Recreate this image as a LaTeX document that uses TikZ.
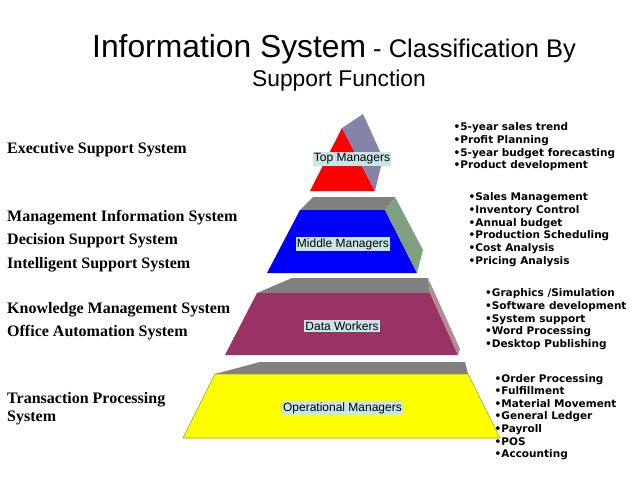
\documentclass[tikz,border=0pt]{standalone}
\usepackage{fontspec}
\setmainfont{Liberation Serif}
\newfontfamily\arialfont{Liberation Sans}
\newfontfamily\verdfont{DejaVu Sans}
\usetikzlibrary{positioning}
\usepackage{xcolor}
\definecolor{lidgrey}{HTML}{808080}
\definecolor{topred}{HTML}{FF0000}
\definecolor{topside}{HTML}{8484A8}
\definecolor{midblue}{HTML}{0000FF}
\definecolor{midside}{HTML}{80A080}
\definecolor{datamaroon}{HTML}{993366}
\definecolor{dataside}{HTML}{B28C92}
\definecolor{opyellow}{HTML}{FFFF00}
\definecolor{opedge}{HTML}{A0A020}
\definecolor{lblcyan}{HTML}{C8E6E8}

\begin{document}
\begin{tikzpicture}[x=1pt,y=-1pt,
  every node/.style={inner sep=0pt},
  sys/.style={font=\bfseries\fontsize{16}{18}\selectfont, anchor=base west},
  bul/.style={font=\verdfont\bfseries\fontsize{10.5}{12}\selectfont, anchor=base west},
  lvl/.style={fill=lblcyan, font=\arialfont\fontsize{12}{14}\selectfont,
              inner xsep=1pt, inner ysep=1.5pt},
  lid/.style={fill=lidgrey}
]
\useasboundingbox (0,0) rectangle (638,479);
\fill[white] (0,0) rectangle (638,479);

%% title
\node[anchor=base west, font=\arialfont] (title) at (92,57)
  {{\fontsize{31.8}{36}\selectfont Information System}{\fontsize{25.5}{28}\selectfont\ - Classification By}};
\node[anchor=base, font=\arialfont\fontsize{22.8}{28}\selectfont] (subtitle) at (339,86) {Support Function};

%% systems (left side)
\node[sys] (ess)  at (7,153) {Executive Support System};
\node[sys] (mis)  at (7,221) {Management Information System};
\node[sys] (dss)  at (7,244) {Decision Support System};
\node[sys] (iss)  at (7,268) {Intelligent Support System};
\node[sys] (kms)  at (7,313) {Knowledge Management System};
\node[sys] (oas)  at (7,336) {Office Automation System};
\node[sys] (tps)  at (7,403) {Transaction Processing};
\node[sys] (tpsb) at (7,421) {System};

%% pyramid: top tier
\fill[topred]  (342,128) -- (375,191) -- (310,191) -- cycle;
\fill[topside] (342,128) -- (363,114) -- (383,158) -- (375,191) -- cycle;

%% middle tier
\fill[lid]     (300,210) -- (313,197) -- (395,197) -- (385,210) -- cycle;
\fill[midblue] (300,210) -- (385,210) -- (417,273) -- (267,273) -- cycle;
\fill[midside] (385,210) -- (395,197) -- (423,250) -- (417,273) -- cycle;

%% data tier
\fill[lid]        (257,293) -- (292,278) -- (428,278) -- (430,293) -- cycle;
\fill[datamaroon] (257,293) -- (430,293) -- (458,355) -- (225,355) -- cycle;
\fill[dataside]   (430,293) -- (428,278) -- (460,349) -- (458,355) -- cycle;

%% operational tier
\fill[lid] (215,374) -- (260,362) -- (465,362) -- (468,374) -- cycle;
\filldraw[fill=opyellow, draw=opedge, line width=0.6pt]
  (215,374) -- (468,374) -- (500,438) -- (183,438) -- cycle;

%% level labels
\node[lvl] (topm)  at (352,159)   {Top Managers};
\node[lvl] (midm)  at (343,244)   {Middle Managers};
\node[lvl] (dataw) at (342,326)   {Data Workers};
\node[lvl] (opm)   at (342.5,408) {Operational Managers};

%% tasks (right side)
\foreach \t [count=\i from 0] in {5-year sales trend, Profit Planning,
    5-year budget forecasting, Product development}
  \node[bul] (exe\i) at (453.5,130.7+12.7*\i) {•\t};
\foreach \t [count=\i from 0] in {Sales Management, Inventory Control,
    Annual budget, Production Scheduling, Cost Analysis, Pricing Analysis}
  \node[bul] (mgt\i) at (468.5,200.7+12.7*\i) {•\t};
\foreach \t [count=\i from 0] in {Graphics /Simulation, Software development,
    System support, Word Processing, Desktop Publishing}
  \node[bul] (know\i) at (485,296.7+12.7*\i) {•\t};
\foreach \t [count=\i from 0] in {Order Processing, Fulfillment,
    Material Movement, General Ledger, Payroll, POS, Accounting}
  \node[bul] (trn\i) at (494.5,382+12.6*\i) {•\t};
\end{tikzpicture}
\end{document}
